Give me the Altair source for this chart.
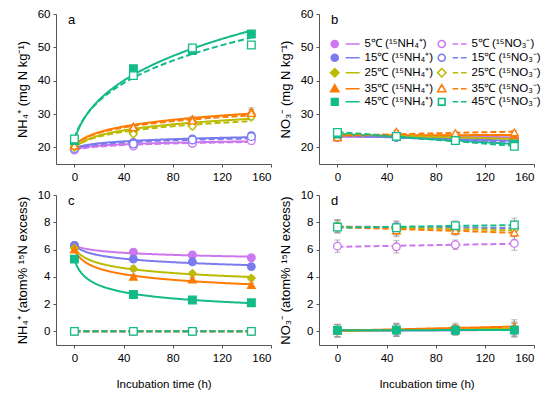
import altair as alt
import pandas as pd

FONT = "Liberation Sans"

TIMES = [0, 48, 96, 144]
TEMPS = ["\u20075℃", "15℃", "25℃", "35℃", "45℃"]
COLORS = ["#CC77EE", "#7B7BEE", "#BBBB00", "#FF7A00", "#12BB88"]
SHAPES = ["circle", "circle", "diamond", "triangle-up", "square"]
LETTERS = ["a", "b", "c", "d"]

# panel a: NH4+ content (mg N kg-1)
A_NH4 = [[19.5, 20.6, 21.3, 22.3], [19.8, 21.5, 22.5, 23.5], [20.0, 24.5, 27.3, 29.5],
         [20.5, 26.3, 28.5, 30.8], [22.0, 43.6, 49.0, 54.0]]
A_NO3 = [[19.2, 20.4, 21.2, 22.0], [19.6, 21.0, 22.2, 23.2], [20.0, 24.0, 26.3, 29.2],
         [20.5, 26.0, 28.0, 30.3], [22.5, 41.5, 49.8, 50.7]]
A_ERR = [0.3, 0.5, 0.8, 1.0]

# panel b: NO3- content (mg N kg-1)
B_NH4 = [[23.0, 23.5, 23.0, 23.0], [23.5, 23.0, 22.5, 22.0], [23.5, 23.5, 23.0, 22.5],
         [23.0, 24.5, 23.5, 23.5], [24.0, 23.2, 22.0, 21.0]]
B_NO3 = [[23.0, 23.3, 23.0, 22.7], [23.5, 23.0, 22.3, 21.5], [23.5, 24.0, 23.5, 22.0],
         [23.0, 24.7, 24.3, 24.5], [24.5, 23.3, 22.0, 20.3]]
B_ERR = [0.3, 0.4, 0.5, 0.6]

# panel c: NH4+ atom% 15N excess
C_NH4 = [[6.3, 5.8, 5.6, 5.4], [6.3, 5.3, 5.1, 4.75], [6.1, 4.6, 4.25, 3.9],
         [6.0, 4.0, 3.8, 3.4], [5.3, 2.7, 2.3, 2.1]]
C_NO3 = [[0.0, 0.0, 0.0, 0.0], [0.0, 0.0, 0.0, 0.0], [0.0, 0.0, 0.0, 0.0],
         [0.0, 0.0, 0.0, 0.0], [0.0, 0.0, 0.0, 0.0]]
C_ERR = [0.1, 0.2, 0.15, 0.15]

# panel d: NO3- atom% 15N excess
D_NH4 = [[0.05, 0.08, 0.08, 0.10], [0.05, 0.08, 0.10, 0.10], [0.03, 0.10, 0.15, 0.20],
         [0.05, 0.15, 0.25, 0.35], [0.08, 0.10, 0.08, 0.10]]
D_NO3 = [[6.25, 6.20, 6.35, 6.45], [7.70, 7.65, 7.55, 7.60], [7.75, 7.50, 7.50, 7.45],
         [7.70, 7.40, 7.40, 7.25], [7.65, 7.60, 7.75, 7.80]]
D_ERR = [0.45, 0.45, 0.35, 0.5]

NH4_LAB = " (¹⁵NH₄⁺)"
NO3_LAB = " (¹⁵NO₃⁻)"

LEG_SHAPES = {
    "circle": "M-1,0A1,1,0,1,1,1,0A1,1,0,1,1,-1,0Z",
    "diamond": "M0,-1.2L1.2,0L0,1.2L-1.2,0Z",
    "triangle-up": "M0,-1.15L1.15,0.85L-1.15,0.85Z",
    "square": "M-0.95,-0.95H0.95V0.95H-0.95Z",
}
SERIES, S_COLORS, S_SHAPES, S_FILLS, S_DASH, S_LEG = [], [], [], [], [], []
for lab, fill_open, dash, seg in ((NH4_LAB, False, [1, 0], "M3.1,0L7.1,0"),
                                  (NO3_LAB, True, [6, 3], "M3.1,0L4.7,0M5.5,0L7.1,0")):
    for temp, col, shp in zip(TEMPS, COLORS, SHAPES):
        SERIES.append(temp + lab)
        S_COLORS.append(col)
        S_SHAPES.append(shp)
        S_FILLS.append("#ffffff" if fill_open else col)
        S_DASH.append(dash)
        S_LEG.append(LEG_SHAPES[shp] + seg)


def frame(nh4, no3, err):
    rows = []
    for i, temp in enumerate(TEMPS):
        for kind, vals in (("NH4", nh4[i]), ("NO3", no3[i])):
            lab = temp + (NH4_LAB if kind == "NH4" else NO3_LAB)
            for t, v, e in zip(TIMES, vals, err):
                rows.append({"t": t, "v": v, "lo": v - e, "hi": v + e, "series": lab, "kind": kind})
    return pd.DataFrame(rows)


def sc(rng):
    return alt.Scale(domain=SERIES, range=rng)


def panel(df, letter, ytitle, xtitle, ydom, yvals, methods, legend=False):
    base = alt.Chart(df)
    xaxis = alt.Axis(values=[0, 40, 80, 120, 160], title=xtitle)
    yaxis = alt.Axis(values=yvals, title=ytitle, labelOverlap=False)
    xs = alt.Scale(domain=[-15, 160], nice=False, zero=False, padding=0)
    ys = alt.Scale(domain=ydom, nice=False, zero=False, padding=0)
    x = alt.X("t:Q", scale=xs, axis=xaxis)
    y = alt.Y("v:Q", scale=ys, axis=yaxis)
    layers = []
    for kind, method in methods.items():
        sub = base.transform_filter(alt.datum.kind == kind)
        if method == "pow":
            sub = (sub.transform_calculate(ts="datum.t + 5")
                   .transform_regression("ts", "v", groupby=["series"], method="pow")
                   .transform_calculate(t="datum.ts - 5"))
        else:
            sub = sub.transform_regression("t", "v", groupby=["series"], method="linear")
        layers.append(sub.mark_line(strokeWidth=2).encode(
            x=x, y=y,
            color=alt.Color("series:N", scale=sc(S_COLORS), legend=None),
            strokeDash=alt.StrokeDash("series:N", scale=sc(S_DASH), legend=None),
        ))
    layers.append(base.mark_errorbar(ticks={"size": 6}, color="#9a9a9a").encode(
        x=x, y=alt.Y("lo:Q", scale=ys, axis=yaxis), y2="hi:Q"))
    layers.append(base.mark_point(filled=False, opacity=1, size=58, strokeWidth=1.3).encode(
        x=x, y=y,
        shape=alt.Shape("series:N", scale=sc(S_SHAPES), legend=None),
        color=alt.Color("series:N", scale=sc(S_COLORS), legend=None),
        fill=alt.Fill("series:N", scale=sc(S_FILLS), legend=None),
    ))
    layers.append(alt.Chart(pd.DataFrame({"letter": [letter]})).mark_text(
        font=FONT, fontSize=13, align="left", baseline="middle", color="#000"
    ).encode(text="letter:N", x=alt.value(12), y=alt.value(6)))
    if legend:
        leg = dict(orient="none", legendX=10, legendY=24, columns=2, title=None,
                   symbolSize=49, symbolStrokeWidth=1.6, symbolOpacity=1,
                   labelFont=FONT, labelFontSize=11.5, labelOffset=24,
                   columnPadding=0, rowPadding=0, padding=0)
        layers.append(base.mark_point(opacity=0, size=49).encode(
            x=x, y=y,
            stroke=alt.Stroke("series:N", scale=sc(S_COLORS), legend=alt.Legend(**leg)),
            fill=alt.Fill("series:N", scale=sc(S_FILLS), legend=alt.Legend(**leg)),
            shape=alt.Shape("series:N", scale=sc(S_LEG), legend=alt.Legend(**leg)),
        ))
    ch = alt.layer(*layers).properties(width=215, height=150)
    if legend:
        ch = ch.resolve_scale(color="independent", stroke="independent", fill="independent",
                              shape="independent", strokeDash="independent")
    return ch


pa = panel(frame(A_NH4, A_NO3, A_ERR), LETTERS[0], "NH₄⁺ (mg N kg⁻¹)", None, [15, 60],
           [20, 30, 40, 50, 60], {"NH4": "pow", "NO3": "pow"})
pb = panel(frame(B_NH4, B_NO3, B_ERR), LETTERS[1], "NO₃⁻ (mg N kg⁻¹)", None, [15, 60],
           [20, 30, 40, 50, 60], {"NH4": "linear", "NO3": "linear"}, legend=True)
pc = panel(frame(C_NH4, C_NO3, C_ERR), LETTERS[2], "NH₄⁺ (atom% ¹⁵N excess)", "Incubation time (h)",
           [-1, 10], [0, 2, 4, 6, 8, 10], {"NH4": "pow", "NO3": "linear"})
pd_ = panel(frame(D_NH4, D_NO3, D_ERR), LETTERS[3], "NO₃⁻ (atom% ¹⁵N excess)", "Incubation time (h)",
            [-1, 10], [0, 2, 4, 6, 8, 10], {"NH4": "linear", "NO3": "linear"})

chart = alt.concat(pa, pb, pc, pd_, columns=2, spacing={"row": 31, "column": 48},
                   bounds="flush").properties(
    padding={"left": 8, "top": 0, "right": 0, "bottom": 0}
).configure_view(stroke=None).configure_scale(continuousPadding=0).configure_axis(
    grid=False, domainColor="#555", tickColor="#555", tickSize=3,
    labelFont=FONT, titleFont=FONT, labelFontSize=11.5, titleFontSize=13,
    titleFontWeight="normal", labelColor="#000", titleColor="#000", labelPadding=3,
).configure_axisX(titlePadding=15, titleFontSize=11.5, labelPadding=4).configure_axisY(titlePadding=8)

chart.save("out.html", embed_options={"renderer": "svg", "actions": False})
